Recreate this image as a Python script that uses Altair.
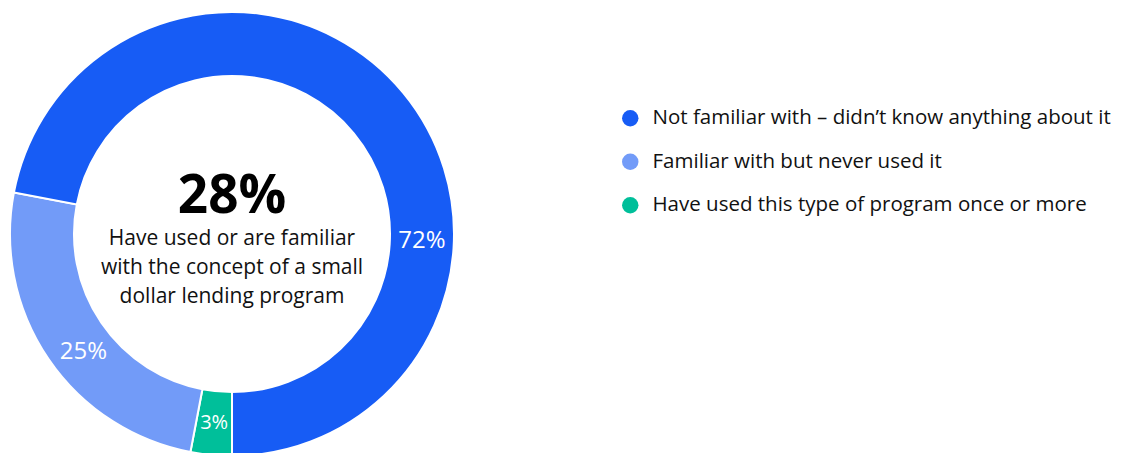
import math
import altair as alt
import pandas as pd

# ---- data ----
categories = [
    "Have used this type of program once or more",
    "Familiar with but never used it",
    "Not familiar with – didn’t know anything about it",
]
values = [3, 25, 72]
labels = ["3%", "25%", "72%"]
colors = ["#00BF9A", "#729BF8", "#175CF5"]

headline = "28%"
caption = ["Have used or are familiar", "with the concept of a small", "dollar lending program"]

# layout: where each value label sits along the ring (in percent units of the ring)
label_at = [1.5, 14.3, 75.6]

FONT = "Open Sans"
CX, CY = 224, 226

df = pd.DataFrame({
    "category": categories,
    "value": values,
    "label": labels,
    "order": list(range(len(categories))),
    "label_at": label_at,
})

legend_order = categories[::-1]
legend_colors = colors[::-1]

theta_scale = alt.Scale(domain=[0, 100], range=[math.pi, 3 * math.pi])

color = alt.Color(
    "category:N",
    scale=alt.Scale(domain=legend_order, range=legend_colors),
    legend=alt.Legend(
        title=None,
        orient="none",
        legendX=612,
        legendY=100,
        symbolType="circle",
        symbolSize=270,
        symbolStrokeWidth=0,
        labelFont=FONT,
        labelFontSize=20.5,
        labelColor="#111111",
        labelOffset=12,
        rowPadding=22.5,
        padding=0,
        labelLimit=600,
    ),
)

ring = alt.Chart(df).mark_arc(
    innerRadius=158, outerRadius=222, stroke="white", strokeWidth=2
).encode(
    x=alt.value(CX), y=alt.value(CY),
    theta=alt.Theta("value:Q", stack=True, scale=theta_scale),
    color=color,
    order=alt.Order("order:Q"),
)

value_labels = alt.Chart(df).mark_text(
    radius=190, color="white", font=FONT, align="center", baseline="middle"
).encode(
    x=alt.value(CX), y=alt.value(CY),
    theta=alt.Theta("label_at:Q", stack=False, scale=theta_scale),
    text="label:N",
    size=alt.condition("datum.value < 10", alt.value(20), alt.value(24)),
)

head_df = pd.DataFrame({"t": [headline]})
head = alt.Chart(head_df).mark_text(
    font=FONT, fontSize=53, fontWeight="bold", color="black",
    align="center", baseline="alphabetic",
).encode(text="t:N", x=alt.value(CX), y=alt.value(205))

cap_df = pd.DataFrame({"t": ["\n".join(caption)]})
cap = alt.Chart(cap_df).mark_text(
    font=FONT, fontSize=21, color="#111111", align="center",
    baseline="alphabetic", lineBreak="\n", lineHeight=29,
).encode(text="t:N", x=alt.value(CX), y=alt.value(237))

chart = alt.layer(ring, value_labels, head, cap).properties(
    width=1112, height=445,
    autosize=alt.AutoSizeParams(type="none"),
    padding=0,
    background="white",
).configure_view(stroke=None)

chart.save("out.html", embed_options={"renderer": "svg", "actions": False})
